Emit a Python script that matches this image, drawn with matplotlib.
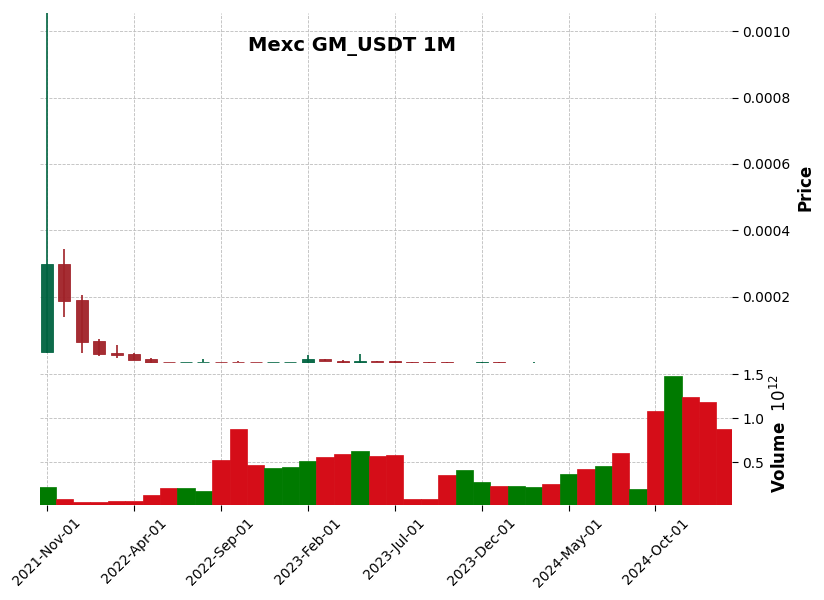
import matplotlib
matplotlib.use("Agg")
import matplotlib.pyplot as plt
from matplotlib.patches import Rectangle
import numpy as np
import pandas as pd

# ---- data (monthly candles, Mexc GM_USDT) ----
months = pd.date_range("2021-11-01", periods=40, freq="MS")

opens = [0.0000355, 0.000299, 0.000191, 0.0000677, 0.0000325, 0.0000286, 0.0000134, 0.0000050,
         0.0000030, 0.0000035, 0.0000042, 0.0000040, 0.0000040, 0.0000028, 0.0000029, 0.0000024,
         0.0000126, 0.0000084, 0.0000024, 0.0000060, 0.0000060, 0.0000030, 0.0000030, 0.0000034,
         0.0000022, 0.0000020, 0.0000032, 0.0000021, 0.0000021, 0.0000022, 0.0000006, 0.0000008,
         0.0000006, 0.0000008, 0.0000006, 0.0000008, 0.0000006, 0.0000008, 0.0000007, 0.0000006]
highs = [0.001056, 0.000343, 0.000205, 0.0000746, 0.0000547, 0.0000300, 0.0000150, 0.0000055,
         0.0000045, 0.0000126, 0.0000045, 0.0000060, 0.0000042, 0.0000030, 0.0000031, 0.0000256,
         0.0000130, 0.0000086, 0.0000286, 0.0000070, 0.0000062, 0.0000032, 0.0000031, 0.0000035,
         0.0000024, 0.0000045, 0.0000033, 0.0000023, 0.0000030, 0.0000023, 0.0000009, 0.0000009,
         0.0000009, 0.0000009, 0.0000009, 0.0000009, 0.0000009, 0.0000009, 0.0000008, 0.0000007]
lows = [0.0000300, 0.000139, 0.0000307, 0.0000226, 0.0000156, 0.0000100, 0.0000020, 0.0000028,
        0.0000028, 0.0000033, 0.0000028, 0.0000028, 0.0000026, 0.0000027, 0.0000028, 0.0000020,
        0.0000062, 0.0000022, 0.0000022, 0.0000033, 0.0000022, 0.0000019, 0.0000019, 0.0000021,
        0.0000021, 0.0000019, 0.0000020, 0.0000020, 0.0000020, 0.0000020, 0.0000005, 0.0000005,
        0.0000005, 0.0000005, 0.0000005, 0.0000005, 0.0000005, 0.0000005, 0.0000005, 0.0000004]
closes = [0.000299, 0.000188, 0.0000656, 0.0000286, 0.0000256, 0.0000105, 0.0000024, 0.0000030,
          0.0000040, 0.0000042, 0.0000030, 0.0000030, 0.0000028, 0.0000029, 0.0000030, 0.0000126,
          0.0000066, 0.0000024, 0.0000060, 0.0000035, 0.0000024, 0.0000020, 0.0000020, 0.0000022,
          0.0000023, 0.0000032, 0.0000021, 0.0000022, 0.0000022, 0.0000021, 0.0000008, 0.0000006,
          0.0000008, 0.0000006, 0.0000008, 0.0000006, 0.0000008, 0.0000007, 0.0000006, 0.0000005]
# volume in units of 1e12
volumes = [0.219, 0.083, 0.049, 0.049, 0.060, 0.060, 0.128, 0.208, 0.208, 0.174,
           0.526, 0.878, 0.469, 0.435, 0.450, 0.515, 0.560, 0.594, 0.628, 0.572,
           0.583, 0.083, 0.083, 0.356, 0.412, 0.276, 0.230, 0.230, 0.219, 0.253,
           0.367, 0.424, 0.458, 0.606, 0.197, 1.083, 1.480, 1.242, 1.185, 0.878]

title = "Mexc GM_USDT 1M"

# ---- style ----
UP, DOWN = "#006340", "#a02128"
VUP, VDOWN = "#007a00", "#d50d18"
GRID = "#bdbdbd"

fig = plt.figure(figsize=(8.24, 6.0), dpi=100)
W, H = 824, 600
def rect(l, t, r, b):
    return [l / W, 1 - b / H, (r - l) / W, (b - t) / H]

axp = fig.add_axes(rect(40, 12.5, 732, 363))
axv = fig.add_axes(rect(40, 363, 732, 505), sharex=axp)

x = np.arange(len(months))
body_w = 0.69
for i in x:
    o, h, l, c = opens[i], highs[i], lows[i], closes[i]
    col = UP if c >= o else DOWN
    axp.vlines(i, l, h, color=col, linewidth=1.2, zorder=2)
    axp.add_patch(Rectangle((i - body_w / 2, min(o, c)), body_w, abs(c - o),
                            facecolor=col, edgecolor=col, linewidth=0.6,
                            alpha=0.95, zorder=3))

vcols = [VUP if closes[i] >= opens[i] else VDOWN for i in x]
axv.bar(x, volumes, width=1.0, color=vcols, edgecolor=vcols, linewidth=0.5, zorder=2)

axp.set_xlim(-0.4, len(months) - 0.6)
axp.set_ylim(1.0e-6, max(highs))
axv.set_ylim(0.3 * min(volumes), 1.1 * max(volumes))

for ax in (axp, axv):
    for s in ax.spines.values():
        s.set_visible(False)
    ax.grid(True, linestyle="--", color=GRID, linewidth=0.6, zorder=0)
    ax.set_axisbelow(True)
    ax.yaxis.tick_right()
    ax.yaxis.set_label_position("right")
    ax.tick_params(axis="y", labelsize=10, length=4)

axp.set_yticks([0.0002, 0.0004, 0.0006, 0.0008, 0.0010])
axp.set_yticklabels([f"{v:.4f}" for v in [0.0002, 0.0004, 0.0006, 0.0008, 0.0010]])
axp.tick_params(axis="x", which="both", bottom=False, labelbottom=False)
axp.set_ylabel("Price", fontsize=12, fontweight="bold")

axv.set_yticks([0.5, 1.0, 1.5])
axv.set_yticklabels(["0.5", "1.0", "1.5"])
axv.set_ylabel("Volume  $10^{12}$", fontsize=12, fontweight="bold")

tick_idx = list(range(0, len(months), 5))
axv.set_xticks(tick_idx)
axv.set_xticklabels([months[i].strftime("%Y-%b-%d") for i in tick_idx],
                    rotation=45, ha="center", fontsize=10)
axv.tick_params(axis="x", length=4)

fig.text(352 / W, 1 - 46 / H, title, ha="center", va="center",
         fontsize=14, fontweight="bold")

fig.savefig("out.png", dpi=100)
